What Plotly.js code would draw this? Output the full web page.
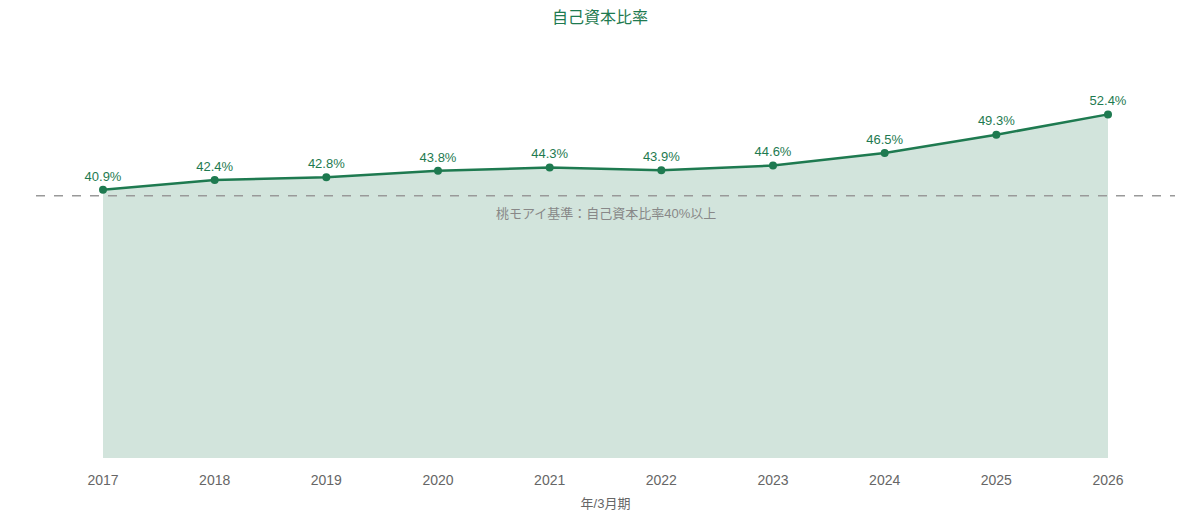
<!DOCTYPE html>
<html>
<head>
<meta charset="utf-8">
<script src="https://cdn.plot.ly/plotly-3.0.1.min.js"></script>
<style>html,body{margin:0;padding:0;background:#fff}#chart{width:1200px;height:520px}</style>
</head>
<body>
<div id="chart"></div>
<script>
// 自己資本比率 (%)
const years = [2017, 2018, 2019, 2020, 2021, 2022, 2023, 2024, 2025, 2026];
const ratio = [40.9, 42.4, 42.8, 43.8, 44.3, 43.9, 44.6, 46.5, 49.3, 52.4];
const threshold = 40;
const thresholdLabel = '桃モアイ基準：自己資本比率40%以上';

const green = '#1e7a50';
const font = "'Liberation Sans', Arial, 'Noto Sans CJK JP', sans-serif";

Plotly.newPlot('chart', [{
  x: years, y: ratio,
  type: 'scatter', mode: 'lines+markers+text',
  fill: 'tozeroy', fillcolor: 'rgba(30,122,80,0.2)',
  line: {color: green, width: 2.5},
  marker: {color: green, size: 8},
  text: ratio.map(v => v.toFixed(1) + '%'),
  textposition: 'top center',
  textfont: {color: green, size: 13, family: font},
  hoverinfo: 'x+y',
  showlegend: false
}], {
  width: 1200, height: 520,
  margin: {l: 36, r: 25, t: 58, b: 62},
  paper_bgcolor: '#fff', plot_bgcolor: '#fff',
  font: {family: font},
  title: {text: '自己資本比率', x: 0.5, y: 0.978, yanchor: 'top',
          font: {size: 16, color: green, family: font}},
  xaxis: {
    range: [2016.4, 2026.6], dtick: 1, tick0: 2017,
    showgrid: false, zeroline: false, showline: false,
    ticks: 'outside', ticklen: 9, tickcolor: 'rgba(0,0,0,0)',
    tickfont: {size: 14, color: '#666'},
    title: {text: '年/3月期', font: {size: 13, color: '#666'}, standoff: 12}
  },
  yaxis: {
    range: [0, 61], visible: false, showgrid: false, zeroline: false
  },
  shapes: [{
    type: 'line', xref: 'paper', x0: 0, x1: 1, yref: 'y', y0: threshold, y1: threshold,
    line: {color: '#999', width: 1.5, dash: 'dash'}
  }],
  annotations: [{
    xref: 'paper', x: 0.5, yref: 'y', y: threshold, yshift: -18,
    text: thresholdLabel, showarrow: false,
    font: {size: 13, color: '#888', family: font}
  }]
}, {displayModeBar: false});
</script>
</body>
</html>
